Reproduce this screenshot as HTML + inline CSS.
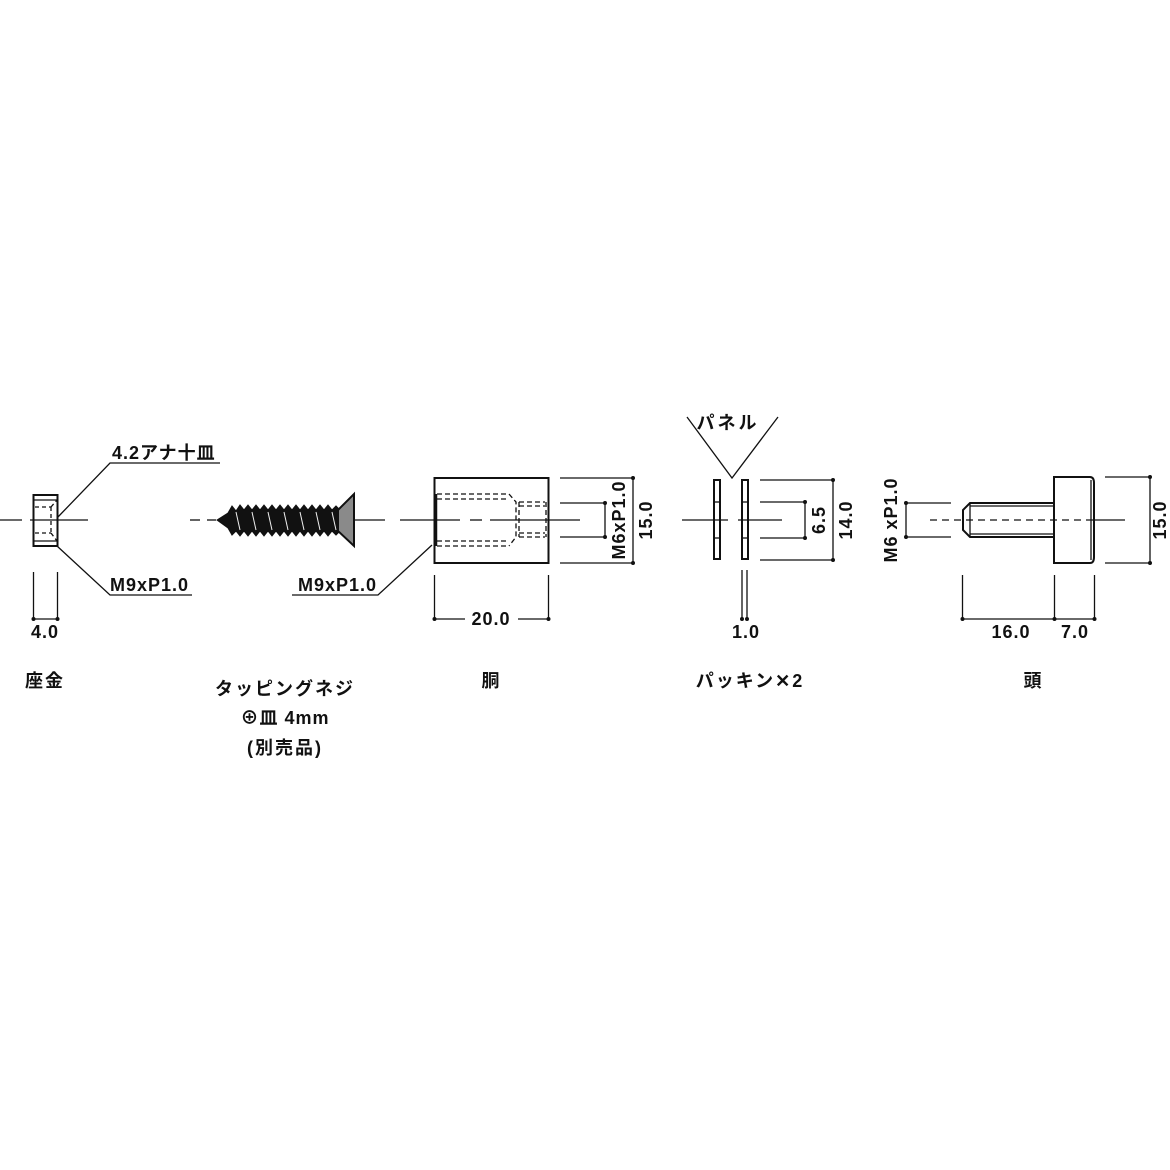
<!DOCTYPE html>
<html><head><meta charset="utf-8"><style>
html,body{margin:0;padding:0;background:#fff;}
svg{display:block;}
text{font-family:"Liberation Sans","Noto Sans CJK JP",sans-serif;font-weight:bold;fill:#111;}
</style></head><body>
<svg width="1170" height="1170" viewBox="0 0 1170 1170" xmlns="http://www.w3.org/2000/svg">
<rect width="1170" height="1170" fill="#fff"/>
<g stroke="#111" stroke-width="1.3" fill="none">
<!-- Washer -->
<line x1="0" y1="520" x2="22" y2="520"/><line x1="30" y1="520" x2="88" y2="520"/>
<rect x="33.5" y="495" width="24" height="51" stroke-width="2"/>
<line x1="34" y1="500" x2="57" y2="500"/><line x1="34" y1="541" x2="57" y2="541"/>
<g stroke-dasharray="4,3"><line x1="35" y1="507" x2="51" y2="507"/><line x1="35" y1="533" x2="51" y2="533"/><line x1="51" y1="507" x2="51" y2="533"/><line x1="51" y1="507" x2="57" y2="500"/><line x1="51" y1="533" x2="57" y2="541"/></g>
<polyline points="57,518 110,463 220,463"/>
<polyline points="57,546 110,595 192,595"/>
<line x1="33.5" y1="572" x2="33.5" y2="619"/><line x1="57.5" y1="572" x2="57.5" y2="619"/><line x1="33.5" y1="619" x2="57.5" y2="619"/>
<!-- Screw -->
<line x1="190" y1="520" x2="200" y2="520"/><line x1="207" y1="520" x2="216" y2="520"/><line x1="352" y1="520" x2="385" y2="520"/>
<polyline points="292,595 378,595 432,545"/>
<!-- Body -->
<line x1="400" y1="520" x2="460" y2="520"/><line x1="470" y1="520" x2="482" y2="520"/><line x1="490" y1="520" x2="580" y2="520"/>
<rect x="434.5" y="478" width="114" height="85" stroke-width="2"/>
<line x1="436" y1="494" x2="436" y2="546" stroke-width="2.5"/>
<g stroke-dasharray="5,3">
<line x1="437" y1="494" x2="509" y2="494"/><line x1="437" y1="499" x2="508" y2="499"/>
<line x1="437" y1="546" x2="509" y2="546"/><line x1="437" y1="541" x2="508" y2="541"/>
<polyline points="509,494 516,502 516,537 509,546"/>
<line x1="519" y1="502" x2="519" y2="537"/>
<line x1="519" y1="502" x2="545" y2="502"/><line x1="519" y1="506" x2="545" y2="506"/>
<line x1="519" y1="537" x2="545" y2="537"/><line x1="519" y1="533" x2="545" y2="533"/>
<line x1="546" y1="502" x2="546" y2="537"/>
</g>
<line x1="560" y1="478" x2="633" y2="478"/><line x1="560" y1="563" x2="633" y2="563"/>
<line x1="560" y1="503" x2="605" y2="503"/><line x1="560" y1="537" x2="605" y2="537"/>
<line x1="605" y1="503" x2="605" y2="537"/><line x1="633" y1="478" x2="633" y2="563"/>
<line x1="434.5" y1="575" x2="434.5" y2="619"/><line x1="548.5" y1="575" x2="548.5" y2="619"/>
<line x1="434.5" y1="619" x2="465" y2="619"/><line x1="518" y1="619" x2="548.5" y2="619"/>
<!-- Packing -->
<line x1="682" y1="520" x2="728" y2="520"/><line x1="738" y1="520" x2="782" y2="520"/>
<rect x="714" y="480" width="6" height="79" stroke-width="2"/>
<rect x="742" y="480" width="6" height="79" stroke-width="2"/>
<line x1="714" y1="502" x2="720" y2="502"/><line x1="714" y1="538" x2="720" y2="538"/>
<line x1="742" y1="502" x2="748" y2="502"/><line x1="742" y1="538" x2="748" y2="538"/>
<polyline points="687,417 732,478 778,417"/>
<line x1="760" y1="480" x2="833" y2="480"/><line x1="760" y1="560" x2="833" y2="560"/>
<line x1="760" y1="502" x2="805" y2="502"/><line x1="760" y1="538" x2="805" y2="538"/>
<line x1="805" y1="502" x2="805" y2="538"/><line x1="833" y1="480" x2="833" y2="560"/>
<line x1="742" y1="570" x2="742" y2="619"/><line x1="747" y1="570" x2="747" y2="619"/>
<!-- Head -->
<line x1="906" y1="503" x2="951" y2="503"/><line x1="906" y1="537" x2="951" y2="537"/><line x1="906" y1="503" x2="906" y2="537"/>
<line x1="1105" y1="477" x2="1150" y2="477"/><line x1="1105" y1="563" x2="1150" y2="563"/><line x1="1150" y1="477" x2="1150" y2="563"/>
<g stroke-dasharray="7,5"><line x1="930" y1="520" x2="1095" y2="520"/></g>
<line x1="1095" y1="520" x2="1125" y2="520"/>
<path d="M1054,503 L970,503 L963,510 L963,530 L970,537 L1054,537" stroke-width="2"/>
<line x1="970" y1="506" x2="1054" y2="506"/><line x1="970" y1="534" x2="1054" y2="534"/><line x1="970" y1="504" x2="970" y2="536"/>
<path d="M1054,477 L1090,477 Q1094,477 1094,483 L1094,557 Q1094,563 1090,563 L1054,563 Z" stroke-width="2"/>
<line x1="1091" y1="480" x2="1091" y2="560"/>
<line x1="962.5" y1="575" x2="962.5" y2="619"/><line x1="1054.5" y1="575" x2="1054.5" y2="619"/><line x1="1094.5" y1="575" x2="1094.5" y2="619"/>
<line x1="962.5" y1="619" x2="1094.5" y2="619"/>
</g>
<!-- screw body -->
<g fill="#111" stroke="#111">
<path d="M217,520 L228,513 L232,506 L236,511 L240,505 L244,510 L248,505 L252,510 L256,505 L260,510 L264,505 L268,510 L272,505 L276,510 L280,505 L284,510 L288,505 L292,510 L296,505 L300,510 L304,505 L308,510 L312,505 L316,510 L320,505 L324,510 L328,505 L332,510 L336,506 L340,510 L340,531 L336,535 L332,531 L328,536 L324,531 L320,536 L316,531 L312,536 L308,531 L304,536 L300,531 L296,536 L292,531 L288,536 L284,531 L280,536 L276,531 L272,536 L268,531 L264,536 L260,531 L256,536 L252,531 L248,536 L244,531 L240,536 L236,531 L232,535 L228,528 Z"/>
</g>
<path d="M338,510 L354,494 L354,546 L338,531 Z" fill="#8a8a8a" stroke="#111" stroke-width="2"/>
<g stroke="#eee" stroke-width="1"><line x1="236" y1="512" x2="240" y2="530"/><line x1="252" y1="512" x2="256" y2="530"/><line x1="268" y1="512" x2="272" y2="530"/><line x1="284" y1="512" x2="288" y2="530"/><line x1="300" y1="512" x2="304" y2="530"/><line x1="316" y1="512" x2="320" y2="530"/><line x1="332" y1="512" x2="336" y2="530"/></g>
<g fill="#111">
<circle cx="33.5" cy="619" r="2"/><circle cx="57.5" cy="619" r="2"/>
<circle cx="434.5" cy="619" r="2"/><circle cx="548.5" cy="619" r="2"/>
<circle cx="633" cy="478" r="2"/><circle cx="633" cy="563" r="2"/><circle cx="605" cy="503" r="2"/><circle cx="605" cy="537" r="2"/>
<circle cx="833" cy="480" r="2"/><circle cx="833" cy="560" r="2"/><circle cx="805" cy="502" r="2"/><circle cx="805" cy="538" r="2"/>
<circle cx="742" cy="619" r="2"/><circle cx="747" cy="619" r="2"/>
<circle cx="906" cy="503" r="2"/><circle cx="906" cy="537" r="2"/><circle cx="1150" cy="477" r="2"/><circle cx="1150" cy="563" r="2"/>
<circle cx="962.5" cy="619" r="2"/><circle cx="1054.5" cy="619" r="2"/><circle cx="1094.5" cy="619" r="2"/>
</g>
<g font-size="18" letter-spacing="1">
<text x="112" y="459">4.2アナ十皿</text>
<text x="110" y="591">M9xP1.0</text>
<text x="298" y="591">M9xP1.0</text>
<text x="45" y="638" text-anchor="middle">4.0</text>
<text x="491" y="625" text-anchor="middle">20.0</text>
<text x="746" y="638" text-anchor="middle">1.0</text>
<text x="1011" y="638" text-anchor="middle">16.0</text>
<text x="1075" y="638" text-anchor="middle">7.0</text>
<text x="728" y="429" text-anchor="middle" letter-spacing="3">パネル</text>
<text transform="translate(625,520) rotate(-90)" text-anchor="middle">M6xP1.0</text>
<text transform="translate(652,520) rotate(-90)" text-anchor="middle">15.0</text>
<text transform="translate(825,520) rotate(-90)" text-anchor="middle">6.5</text>
<text transform="translate(852,520) rotate(-90)" text-anchor="middle">14.0</text>
<text transform="translate(897,520) rotate(-90)" text-anchor="middle">M6 xP1.0</text>
<text transform="translate(1166,520) rotate(-90)" text-anchor="middle">15.0</text>
<text x="45" y="687" text-anchor="middle" letter-spacing="2">座金</text>
<text x="285" y="695" text-anchor="middle" letter-spacing="2">タッピングネジ</text>
<text x="285" y="724" text-anchor="middle">⊕皿 4mm</text>
<text x="285" y="754" text-anchor="middle" letter-spacing="2">(別売品)</text>
<text x="491" y="687" text-anchor="middle">胴</text>
<text x="750" y="687" text-anchor="middle" letter-spacing="2">パッキン✕2</text>
<text x="1033" y="687" text-anchor="middle">頭</text>
</g>
</svg>
</body></html>
